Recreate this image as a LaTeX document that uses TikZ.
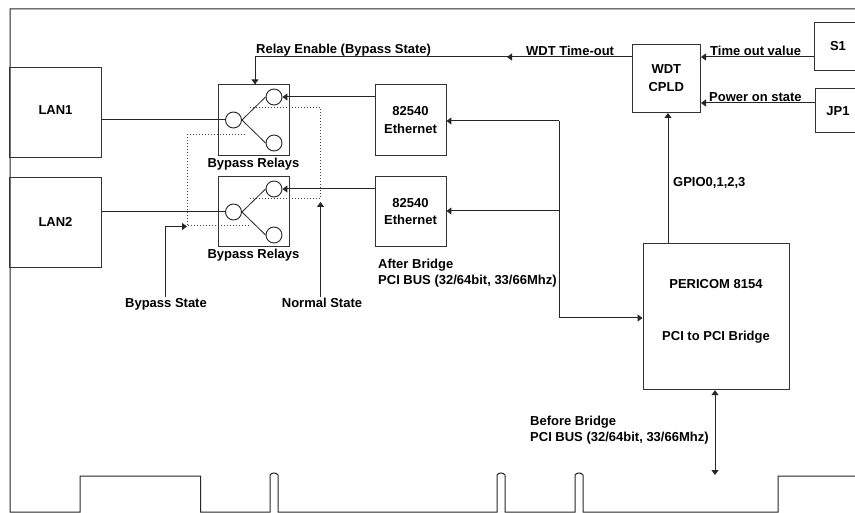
\documentclass[tikz,border=0pt]{standalone}
\usepackage{fontspec}
\setmainfont{Liberation Sans}
\usetikzlibrary{arrows.meta,calc}
\tikzset{
  boxn/.style={draw=black!80,line width=0.9pt,inner sep=0pt,align=center,font=\bfseries\fontsize{13}{17.5}\selectfont},
  relaybox/.style={boxn,minimum width=70.5pt,minimum height=70.5pt},
  pinc/.style={draw=black!85,line width=0.9pt,fill=white,circle,minimum size=16pt,inner sep=0pt},
  lbl/.style={inner sep=0pt,anchor=base,font=\bfseries\fontsize{13}{15}\selectfont},
  lblw/.style={lbl,anchor=base west},
  wire/.style={draw=black!85,line width=1pt},
  arr/.style={wire,-{Triangle[length=5pt,width=7pt]}},
  arrb/.style={wire,{Triangle[length=5pt,width=7pt]}-{Triangle[length=5pt,width=7pt]}},
  dot/.style={draw=black!75,line width=1pt,dotted,line cap=butt},
  thin/.style={draw=black!85,line width=0.8pt},
  outline/.style={draw=black!85,line width=1pt},
}
\begin{document}
\begin{tikzpicture}[x=1pt,y=-1pt]
\path[clip] (0,0) rectangle (855,513);
\fill[white] (0,0) rectangle (855,513);
% card outline
\draw[outline] (855,9) -- (10,9) -- (10,512) -- (80,512) -- (80,476) -- (200.5,476) -- (200.5,512) -- (270,512) -- (270,475) to[bend left=60] (278,475) -- (278,512) -- (497,512) -- (497,475) to[bend left=60] (505,475) -- (505,512) -- (575,512) -- (575,475) to[bend left=60] (583,475) -- (583,512) -- (778,512) -- (778,476) -- (855,476);
% boxes
\node[boxn,minimum width=92pt,minimum height=90pt] (lan1) at (55.5,112) {LAN1\\[-14pt]~};
\node[boxn,minimum width=92pt,minimum height=90pt] (lan2) at (55.5,222) {LAN2};
\node[relaybox] (r1) at (253.7,120) {};
\node[relaybox] (r2) at (253.7,211.5) {};
\node[boxn,minimum width=71pt,minimum height=70.5pt] (e1) at (410.5,120) {82540\\Ethernet};
\node[boxn,minimum width=71pt,minimum height=70.5pt] (e2) at (410.5,211.5) {82540\\Ethernet};
\node[boxn,minimum width=68.5pt,minimum height=68.5pt] (wdt) at (666.3,78.3) {WDT\\CPLD};
\node[boxn,minimum width=48pt,minimum height=48pt] (s1) at (838,46.5) {S1};
\node[boxn,minimum width=46pt,minimum height=44.5pt] (jp1) at (838,110.7) {JP1};
\node[boxn,minimum width=146pt,minimum height=146pt] (br) at (716,316.7) {PERICOM 8154\\[34.5pt]PCI to PCI Bridge\\[-5pt]~};
% relay contacts
\foreach \r/\y in {1/120,2/212}{
  \node[pinc] (c\r) at (233.5,\y) {};
  \node[pinc] (t\r) at (274,\y-23) {};
  \node[pinc] (b\r) at (274,\y+23) {};
  \draw[thin] (c\r.east) -- (t\r.west);
  \draw[thin] (c\r.east) -- (b\r.west);
}
% dotted state lines
\coordinate (dn) at (320.5,199);
\coordinate (dup) at (320.5,108);
\coordinate (dl) at (187,135);
\coordinate (dlb) at (187,226);
\coordinate (s1a) at (250,108);
\coordinate (s2a) at (250,199);
\coordinate (s1b) at (245,135);
\coordinate (s2b) at (250,226);
\draw[dot] (s1a) -- (dup) -- (dn) -- (s2a);
\draw[dot] (s1b) -- (dl) -- (dlb) -- (s2b);
% wires
\draw[wire] (lan1.east|-c1) -- (c1);
\draw[wire] (lan2.east|-c2) -- (c2);
\draw[arr] (e1.west|-t1) -- (t1);
\draw[arr] (e2.west|-t2) -- (t2);
% WDT time-out
\coordinate (mid) at (507,57);
\coordinate (corner) at (255,57);
\draw[wire] (wdt.west|-mid) -- (corner) -- (corner|-r1.north);
\draw[arr] (corner) -- (corner|-r1.north);
\draw[arr] (wdt.west|-mid) -- (mid);
\draw[arr] (s1.west|-mid) -- (wdt.east|-mid);
\coordinate (pw) at (800,103);
\draw[arr] (jp1.west|-pw) -- (wdt.east|-pw);
% bus
\coordinate (bust) at (559,121);
\coordinate (busm) at (559,211);
\coordinate (busb) at (559,318);
\draw[wire] (bust) -- (busb);
\draw[arr] (bust) -- (e1.east|-bust);
\draw[arr] (busm) -- (e2.east|-busm);
\draw[arr] (busb) -- (br.west|-busb);
\coordinate (gp) at (668,180);
\draw[arr] (br.north-|gp) -- (wdt.south-|gp);
\coordinate (pcibot) at (715,475);
\draw[arrb] (br.south-|pcibot) -- (pcibot);
% state arrows
\coordinate (nbot) at (320.5,297);
\coordinate (bbot) at (165,297);
\coordinate (bcor) at (165,226.5);
\coordinate (btip) at (187,226.5);
\draw[arr] (nbot) -- (dn|-,202);
\draw[arr] (bbot) -- (bcor) -- (btip);
% labels
\node[lbl] (l1) at (253.5,167.5) {Bypass Relays};
\node[lbl] (l2) at (253.5,258.5) {Bypass Relays};
\node[lblw] (l3) at (256,53.5) {Relay Enable (Bypass State)};
\node[lblw] (l4) at (526,55.5) {WDT Time-out};
\node[lblw] (l5) at (710,55.5) {Time out value};
\node[lblw] (l6) at (709,101.5) {Power on state};
\node[lblw] (l7) at (673,186.5) {GPIO0,1,2,3};
\node[lblw] (l8) at (378,268.5) {After Bridge};
\node[lblw] (l9) at (378,284.5) {PCI BUS (32/64bit, 33/66Mhz)};
\node[lblw] (l10) at (530,425.5) {Before Bridge};
\node[lblw] (l11) at (530,441.5) {PCI BUS (32/64bit, 33/66Mhz)};
\node[lbl] (l12) at (166,307.5) {Bypass State};
\node[lbl] (l13) at (322,307.5) {Normal State};
\end{tikzpicture}
\end{document}
